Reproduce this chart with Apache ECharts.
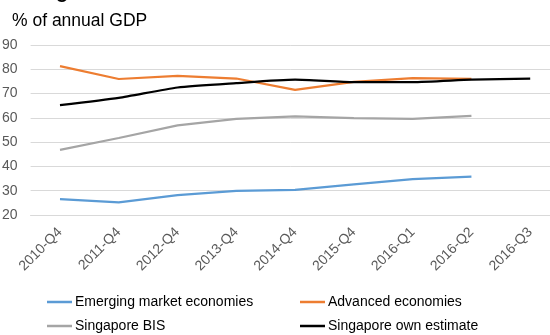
<!DOCTYPE html>
<html>
<head>
<meta charset="utf-8">
<script src="https://cdn.jsdelivr.net/npm/echarts@6/dist/echarts.min.js"></script>
<style>
  html, body { margin: 0; padding: 0; background: #fff; }
  #chart { width: 550px; height: 335px; }
</style>
</head>
<body>
<div id="chart"></div>
<script>
// Household debt as a share of annual GDP
const categories = ['2010-Q4', '2011-Q4', '2012-Q4', '2013-Q4', '2014-Q4', '2015-Q4', '2016-Q1', '2016-Q2', '2016-Q3'];
const emergingMarkets = [26.5, 25.2, 28.2, 29.9, 30.3, 32.6, 34.8, 35.8, null];
const advancedEconomies = [81.3, 76.0, 77.3, 76.2, 71.5, 74.8, 76.4, 76.1, null];
const singaporeBIS = [46.8, 51.7, 56.9, 59.6, 60.6, 59.9, 59.6, 60.8, null];
const singaporeOwn = [65.2, 68.2, 72.5, 74.3, 75.7, 74.7, 74.7, 75.7, 76.2];
const yTicks = { min: 20, max: 90, step: 10 };

const textColor = '#595959';
const fontFamily = '"Liberation Sans", Arial, sans-serif';

function lineSeries(name, data, color, smooth) {
  return {
    name: name,
    type: 'line',
    data: data,
    symbol: 'none',
    smooth: smooth,
    connectNulls: false,
    lineStyle: { color: color, width: 2.25 },
    itemStyle: { color: color }
  };
}

function legendItem(name, left, top) {
  return {
    left: left, top: top,
    icon: 'rect', itemWidth: 25, itemHeight: 2.5,
    textStyle: { color: '#000', fontSize: 14, padding: [0, 0, 0, -2] },
    data: [name]
  };
}

const chart = echarts.init(document.getElementById('chart'), null, { renderer: 'canvas' });
chart.setOption({
  animation: false,
  backgroundColor: '#fff',
  textStyle: { fontFamily: fontFamily },
  graphic: [
    {
      type: 'text', left: 56, top: -18,
      style: { text: 'g', font: 'bold 20px ' + fontFamily, fill: '#000' }
    },
    {
      type: 'text', left: 12, top: 12,
      style: { text: '% of annual GDP', font: '17.5px ' + fontFamily, fill: '#000' }
    }
  ],
  grid: {
    left: 30.6, top: 45, width: 529, height: 170,
    containLabel: false, outerBoundsMode: 'none'
  },
  xAxis: {
    type: 'category',
    data: categories,
    boundaryGap: true,
    axisLine: { show: true, lineStyle: { color: '#d9d9d9', width: 1 } },
    axisTick: { show: false },
    axisLabel: { rotate: 45, color: textColor, fontSize: 14, margin: 15, fontFamily: fontFamily }
  },
  yAxis: {
    type: 'value',
    min: yTicks.min,
    max: yTicks.max,
    interval: yTicks.step,
    axisLine: { show: false },
    axisTick: { show: false },
    splitLine: { lineStyle: { color: '#d9d9d9', width: 1 } },
    axisLabel: { color: textColor, fontSize: 14, margin: 13, fontFamily: fontFamily }
  },
  legend: [
    legendItem('Emerging market economies', 42, 290),
    legendItem('Singapore BIS', 42, 314),
    legendItem('Advanced economies', 295, 290),
    legendItem('Singapore own estimate', 295, 314)
  ],
  series: [
    lineSeries('Emerging market economies', emergingMarkets, '#5b9bd5', false),
    lineSeries('Advanced economies', advancedEconomies, '#ed7d31', false),
    lineSeries('Singapore BIS', singaporeBIS, '#a5a5a5', false),
    lineSeries('Singapore own estimate', singaporeOwn, '#000000', 0.2)
  ]
});
</script>
</body>
</html>
